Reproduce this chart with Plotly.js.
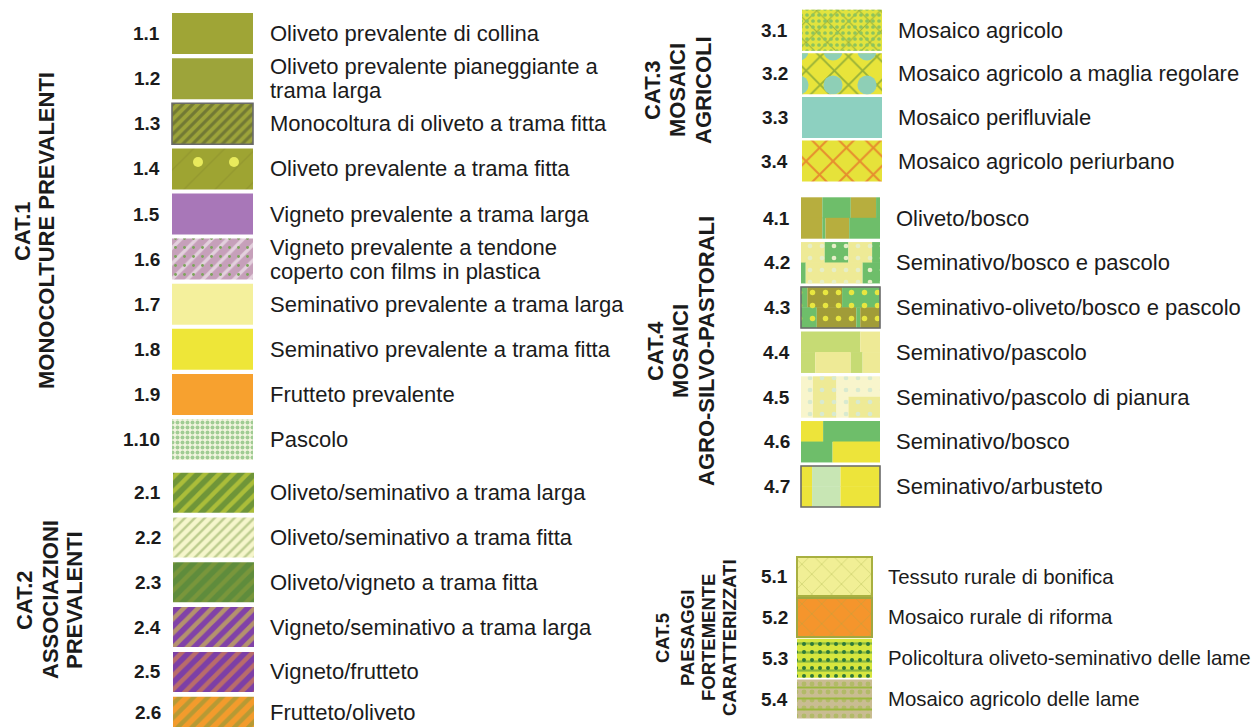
<!DOCTYPE html>
<html><head><meta charset="utf-8">
<script src="https://cdn.plot.ly/plotly-3.0.1.min.js"></script>
<style>html,body{margin:0;padding:0;background:#fff;overflow:hidden}</style>
</head><body><div id="chart" style="width:1258px;height:727px"></div>
<script>
// ---------------- DATA ----------------
const cat1Codes = ["1.1","1.2","1.3","1.4","1.5","1.6","1.7","1.8","1.9","1.10"];
const cat1Labels = [
  "Oliveto prevalente di collina",
  "Oliveto prevalente pianeggiante a\ntrama larga",
  "Monocoltura di oliveto a trama fitta",
  "Oliveto prevalente a trama fitta",
  "Vigneto prevalente a trama larga",
  "Vigneto prevalente a tendone\ncoperto con films in plastica",
  "Seminativo prevalente a trama larga",
  "Seminativo prevalente a trama fitta",
  "Frutteto prevalente",
  "Pascolo"
];
const cat1Title = ["CAT.1","MONOCOLTURE PREVALENTI"];

const cat2Codes = ["2.1","2.2","2.3","2.4","2.5","2.6"];
const cat2Labels = [
  "Oliveto/seminativo a trama larga",
  "Oliveto/seminativo a trama fitta",
  "Oliveto/vigneto a trama fitta",
  "Vigneto/seminativo a trama larga",
  "Vigneto/frutteto",
  "Frutteto/oliveto"
];
const cat2Title = ["CAT.2","ASSOCIAZIONI","PREVALENTI"];

const cat3Codes = ["3.1","3.2","3.3","3.4"];
const cat3Labels = [
  "Mosaico agricolo",
  "Mosaico agricolo a maglia regolare",
  "Mosaico perifluviale",
  "Mosaico agricolo periurbano"
];
const cat3Title = ["CAT.3","MOSAICI","AGRICOLI"];

const cat4Codes = ["4.1","4.2","4.3","4.4","4.5","4.6","4.7"];
const cat4Labels = [
  "Oliveto/bosco",
  "Seminativo/bosco e pascolo",
  "Seminativo-oliveto/bosco e pascolo",
  "Seminativo/pascolo",
  "Seminativo/pascolo di pianura",
  "Seminativo/bosco",
  "Seminativo/arbusteto"
];
const cat4Title = ["CAT.4","MOSAICI","AGRO-SILVO-PASTORALI"];

const cat5Codes = ["5.1","5.2","5.3","5.4"];
const cat5Labels = [
  "Tessuto rurale di bonifica",
  "Mosaico rurale di riforma",
  "Policoltura oliveto-seminativo delle lame",
  "Mosaico agricolo delle lame"
];
const cat5Title = ["CAT.5","PAESAGGI","FORTEMENTE","CARATTERIZZATI"];

// ---------------- STYLES ----------------
const OL = "#B7AE3E", GR = "#6EBE6A", PY = "#EEEA96", DOL = "#A19C38", YG = "#C6DB74",
      CR = "#F8F5CC", YE = "#EDE43A", PG = "#C8E6B4";
const SWATCH = {
  "1.1": {bg:"#9FA536"},
  "1.2": {bg:"#9DA43A"},
  "1.3": {bg:"#9CA33A", pat:{shape:"/", fg:"#47502E", size:7, sol:0.45}, line:"#6a6a6a"},
  "1.4": {bg:"#9EA432", pat:{shape:"/", fg:"#878A2C", size:22, sol:0.06}, pat2:{shape:".", fg:"#E8EA5C", size:36, sol:0.06}},
  "1.5": {bg:"#A877B8"},
  "1.6": {bg:"#C6A0BA", pat:{shape:"/", fg:"#FFFFFF", size:11, sol:0.3}, pat2:{shape:".", fg:"#7BA45A", size:9, sol:0.08}},
  "1.7": {bg:"#F4F09C"},
  "1.8": {bg:"#EEE638"},
  "1.9": {bg:"#F7A12F"},
  "1.10":{bg:"#F3F5E0", pat:{shape:".", fg:"#4FA448", size:5, sol:0.5}},
  "2.1": {bg:"#6F9538", pat:{shape:"/", fg:"#E8E53A", size:10, sol:0.42}},
  "2.2": {bg:"#F6F6CC", pat:{shape:"/", fg:"#86A452", size:7, sol:0.35}},
  "2.3": {bg:"#5F8C3C", pat:{shape:"/", fg:"#93A03A", size:10, sol:0.42}},
  "2.4": {bg:"#8142A8", pat:{shape:"/", fg:"#E8E232", size:10, sol:0.45}},
  "2.5": {bg:"#7D3FA6", pat:{shape:"/", fg:"#F59A2E", size:10, sol:0.45}},
  "2.6": {bg:"#F39B2C", pat:{shape:"/", fg:"#7C9A3C", size:10, sol:0.45}},
  "3.1": {bg:"#E2E33E", pat:{shape:"x", fg:"#4F8238", size:15, sol:0.14}, pat2:{shape:".", fg:"#8CC45E", size:6, sol:0.3}},
  "3.2": {bg:"#E8E43A", pat:{shape:"x", fg:"#457E36", size:20, sol:0.18}, pat2:{shape:".", fg:"#8ECFB6", size:34, sol:0.25}},
  "3.3": {bg:"#8DD0C0"},
  "3.4": {bg:"#E6E23A", pat:{shape:"x", fg:"#E63A22", size:19, sol:0.2}},
  "4.1": {mosaic:[[[OL,.27],[GR,.36],[OL,.32],[GR,.05]], [[OL,.27],[GR,.04],[OL,.30],[GR,.39]]]},
  "4.2": {mosaic:[[[PY,.30],[GR,.30],[PY,.30],[GR,.10]], [[GR,.06],[PY,.72],[GR,.22]]], pat2:{shape:".", fg:"#E6EEC8", size:12, sol:0.12}},
  "4.3": {mosaic:[[[GR,.08],[DOL,.44],[GR,.48]], [[GR,.20],[DOL,.50],[GR,.05],[DOL,.25]]], pat2:{shape:".", fg:"#E8E640", size:13, sol:0.14}, line:"#6a6a6a"},
  "4.4": {mosaic:[[[YG,.75],[PY,.25]], [[YG,.18],[PY,.45],[YG,.15],[PY,.22]]]},
  "4.5": {mosaic:[[[CR,.15],[PY,.30],[CR,.55]], [[CR,.15],[PY,.30],[CR,.15],[PY,.40]]], pat2:{shape:".", fg:"#D8EAD0", size:12, sol:0.12}},
  "4.6": {mosaic:[[[YE,.28],[GR,.72]], [[GR,.40],[YE,.60]]]},
  "4.7": {mosaic:[[[YE,.14],[PG,.36],[YE,.50]], [[YE,.14],[PG,.36],[YE,.50]]], line:"#6a6a6a"},
  "5.1": {bg:"#F1EF95", pat:{shape:"x", fg:"#A6B048", size:14, sol:0.1}, line:"#A8B040", lw:2},
  "5.2": {bg:"#F5952C", pat:{shape:"x", fg:"#A0A848", size:14, sol:0.1}, line:"#A0A840", lw:2},
  "5.3": {bg:"#D6E63E", pat:{shape:"-", fg:"#3A8A40", size:9, sol:0.25}, pat2:{shape:".", fg:"#2E7A38", size:8, sol:0.2}},
  "5.4": {bg:"#C9BC92", pat:{shape:".", fg:"#9CB83E", size:8, sol:0.3}, pat2:{shape:"-", fg:"#9CB83E", size:11, sol:0.18}}
};

// ---------------- LAYOUT OF GROUPS ----------------
const GROUPS = [
  {codes:cat1Codes, labels:cat1Labels, title:cat1Title, c0:33.6, pitch:45.1, h:41, x0:172, w:81,
   numX:162, labX:268, labSize:22, titleX:[22,46], titleY:231, titleSize:22},
  {codes:cat2Codes, labels:cat2Labels, title:cat2Title, c0:492.7, pitch:44.8, h:40, x0:173, w:81,
   numX:163, labX:268, labSize:22, titleX:[24,50,74], titleY:600, titleSize:22},
  {codes:cat3Codes, labels:cat3Labels, title:cat3Title, c0:30.2, pitch:43.6, h:41, x0:802, w:80,
   numX:790, labX:896, labSize:22, titleX:[652,677,703], titleY:90, titleSize:22},
  {codes:cat4Codes, labels:cat4Labels, title:cat4Title, c0:218, pitch:44.75, h:41, x0:801, w:79,
   numX:792, labX:894, labSize:22, titleX:[655,680,706], titleY:351, titleSize:22},
  {codes:cat5Codes, labels:cat5Labels, title:cat5Title, c0:576.6, pitch:40.8, h:39, x0:797, w:75,
   numX:790, labX:886, labSize:20.4, titleX:[662,687,708,729], titleY:638, titleSize:18.5}
];

const FONT = "Liberation Sans, Arial, Helvetica, sans-serif";
const TXT = "#1b1b1b";
const MAXY = 727 - 15;
const traces = [];
const annotations = [];

function bar(y, base, len, width, color, opts) {
  opts = opts || {};
  const m = {color: color, line: {width: opts.lw || 0, color: opts.lc || "rgba(0,0,0,0)"}};
  if (opts.pattern) m.pattern = opts.pattern;
  return {type:"bar", orientation:"h", y:[y], x:[len], base:[base], width:[width],
          marker:m, hoverinfo:"skip", showlegend:false};
}

function addSwatch(code, cy, x0, w, h) {
  const st = SWATCH[code];
  if (st.mosaic) {
    const n = st.mosaic.length, rh = h / n;
    st.mosaic.forEach((row, r) => {
      let acc = 0;
      row.forEach(([col, frac]) => {
        traces.push(bar(cy - h/2 + rh*(r+0.5), x0 + acc*w, frac*w, rh + 0.4, col));
        acc += frac;
      });
    });
  } else {
    const o = {};
    if (st.pat) o.pattern = {shape:st.pat.shape, fgcolor:st.pat.fg, size:st.pat.size, solidity:st.pat.sol, fillmode:"overlay"};
    traces.push(bar(cy, x0, w, h, st.bg, o));
  }
  if (st.pat2) {
    traces.push(bar(cy, x0, w, h, "rgba(0,0,0,0)", {pattern:{shape:st.pat2.shape, fgcolor:st.pat2.fg,
      bgcolor:"rgba(0,0,0,0)", size:st.pat2.size, solidity:st.pat2.sol, fillmode:"replace"}}));
  }
  if (st.line) {
    traces.push(bar(cy, x0, w, h, "rgba(0,0,0,0)", {lw: st.lw || 1.6, lc: st.line}));
  }
}

GROUPS.forEach(g => {
  g.codes.forEach((code, i) => {
    const cy = g.c0 + i * g.pitch;
    const ty = Math.min(cy, MAXY);
    addSwatch(code, cy, g.x0, g.w, g.h);
    annotations.push({x:g.numX, y:ty, xref:"x", yref:"y", text:code, showarrow:false,
      xanchor:"right", yanchor:"middle", font:{family:FONT, size:19, weight:700, color:TXT}});
    const lines = g.labels[i].split("\n");
    lines.forEach((ln, k) => {
      const off = (k - (lines.length - 1) / 2) * 24;
      annotations.push({x:g.labX, y:ty + off, xref:"x", yref:"y", text:ln, showarrow:false,
        xanchor:"left", yanchor:"middle", font:{family:FONT, size:g.labSize, color:TXT}});
    });
  });
  g.title.forEach((t, k) => {
    annotations.push({x:g.titleX[k], y:g.titleY, xref:"x", yref:"y", text:t, showarrow:false,
      textangle:-90, xanchor:"center", yanchor:"middle",
      font:{family:FONT, size:g.titleSize, weight:700, color:TXT}});
  });
});

const layout = {
  width:1258, height:727, margin:{l:0,r:0,t:0,b:0,pad:0},
  paper_bgcolor:"#ffffff", plot_bgcolor:"#ffffff",
  barmode:"overlay", showlegend:false,
  xaxis:{range:[0,1258], visible:false, fixedrange:true},
  yaxis:{range:[727,0], visible:false, fixedrange:true},
  annotations:annotations
};
Plotly.newPlot("chart", traces, layout, {staticPlot:true, displayModeBar:false});
</script></body></html>
